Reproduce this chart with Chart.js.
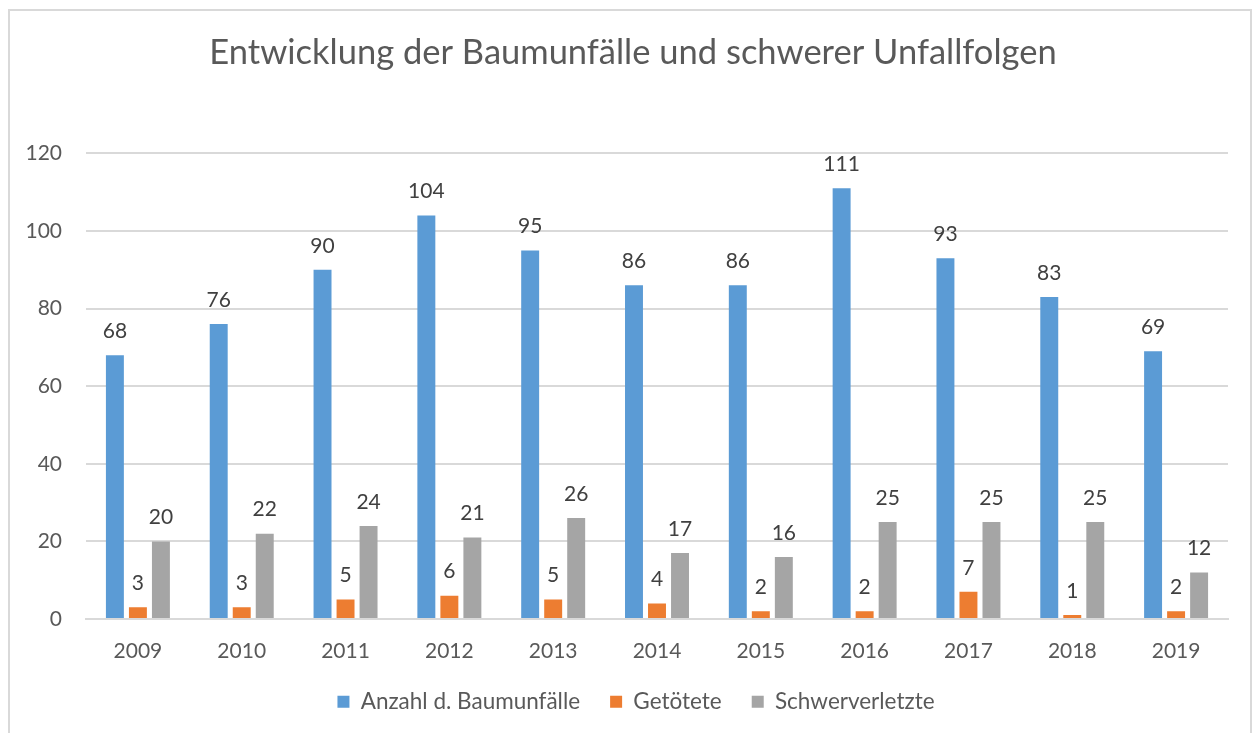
<!DOCTYPE html>
<html lang="de">
<head>
    <meta charset="UTF-8">
    <title>Entwicklung der Baumunfälle und schwerer Unfallfolgen</title>
    <script src="https://cdn.jsdelivr.net/npm/chart.js"></script>
    <style>
        html, body {
            margin: 0;
            padding: 0;
            background: #ffffff;
        }
        #rahmen {
            position: absolute;
            left: 8px;
            top: 9px;
            width: 1244px;
            height: 740px;
            border: 2px solid #d9d9d9;
            box-sizing: border-box;
        }
        #wrap {
            position: absolute;
            left: 0;
            top: 0;
            width: 1257px;
            height: 733px;
        }
    </style>
</head>
<body>
    <div id="rahmen"></div>
    <div id="wrap"><canvas id="grafica"></canvas></div>

    <script>
        const jahre = ["2009", "2010", "2011", "2012", "2013", "2014", "2015", "2016", "2017", "2018", "2019"];
        const baumunfaelle = [68, 76, 90, 104, 95, 86, 86, 111, 93, 83, 69];
        const getoetete = [3, 3, 5, 6, 5, 4, 2, 2, 7, 1, 2];
        const schwerverletzte = [20, 22, 24, 21, 26, 17, 16, 25, 25, 25, 12];
        const yTicks = [0, 20, 40, 60, 80, 100, 120];

        const schrift = "Lato, 'Open Sans', sans-serif";

        // Werte über den Balken
        const werteLabels = {
            id: 'werteLabels',
            afterDatasetsDraw(chart) {
                const ctx = chart.ctx;
                ctx.save();
                ctx.font = "21px " + schrift;
                ctx.fillStyle = "#404040";
                ctx.textAlign = "center";
                ctx.textBaseline = "middle";
                chart.data.datasets.forEach((ds, i) => {
                    chart.getDatasetMeta(i).data.forEach((bar, j) => {
                        ctx.fillText(String(ds.data[j]), bar.x, bar.y - 24);
                    });
                });
                ctx.restore();
            }
        };

        // Titel und Legende etwas nach rechts, wie im Original
        const verschieben = {
            id: 'verschieben',
            afterLayout(chart) {
                if (chart.titleBlock) {
                    chart.titleBlock.left += 19;
                    chart.titleBlock.right += 19;
                }
                if (chart.legend) {
                    chart.legend.left += 22;
                    chart.legend.right += 22;
                }
            }
        };

        new Chart(document.getElementById('grafica'), {
            type: 'bar',
            data: {
                labels: jahre,
                datasets: [
                    { label: "Anzahl d. Baumunfälle", data: baumunfaelle, backgroundColor: "#5B9BD5" },
                    { label: "Getötete", data: getoetete, backgroundColor: "#ED7D31" },
                    { label: "Schwerverletzte", data: schwerverletzte, backgroundColor: "#A5A5A5" }
                ]
            },
            options: {
                responsive: true,
                maintainAspectRatio: false,
                animation: false,
                categoryPercentage: 0.665,
                barPercentage: 0.78,
                layout: { padding: { left: 0, right: 29, top: 0, bottom: 10 } },
                plugins: {
                    tooltip: { enabled: false },
                    title: {
                        display: true,
                        text: "Entwicklung der Baumunfälle und schwerer Unfallfolgen",
                        color: "#595959",
                        font: { family: schrift, size: 34.5, weight: 'normal' },
                        padding: { top: 32, bottom: 80 }
                    },
                    legend: {
                        position: 'bottom',
                        labels: {
                            color: "#595959",
                            font: { family: schrift, size: 22.5 },
                            boxWidth: 12,
                            boxHeight: 12,
                            padding: 30
                        }
                    }
                },
                scales: {
                    x: {
                        afterFit(scale) { scale.height = 41.5; },
                        grid: { display: false },
                        border: { color: "#d9d9d9", width: 2 },
                        ticks: {
                            color: "#595959",
                            font: { family: schrift, size: 21 },
                            padding: 12
                        }
                    },
                    y: {
                        min: 0,
                        max: 120,
                        afterFit(scale) { scale.width = 86; },
                        afterBuildTicks(scale) { scale.ticks = yTicks.map(v => ({ value: v })); },
                        grid: { color: "#d9d9d9", lineWidth: 2, drawTicks: false },
                        border: { display: false },
                        ticks: {
                            color: "#595959",
                            font: { family: schrift, size: 21 },
                            padding: 24
                        }
                    }
                }
            },
            plugins: [werteLabels, verschieben]
        });
    </script>
</body>
</html>
